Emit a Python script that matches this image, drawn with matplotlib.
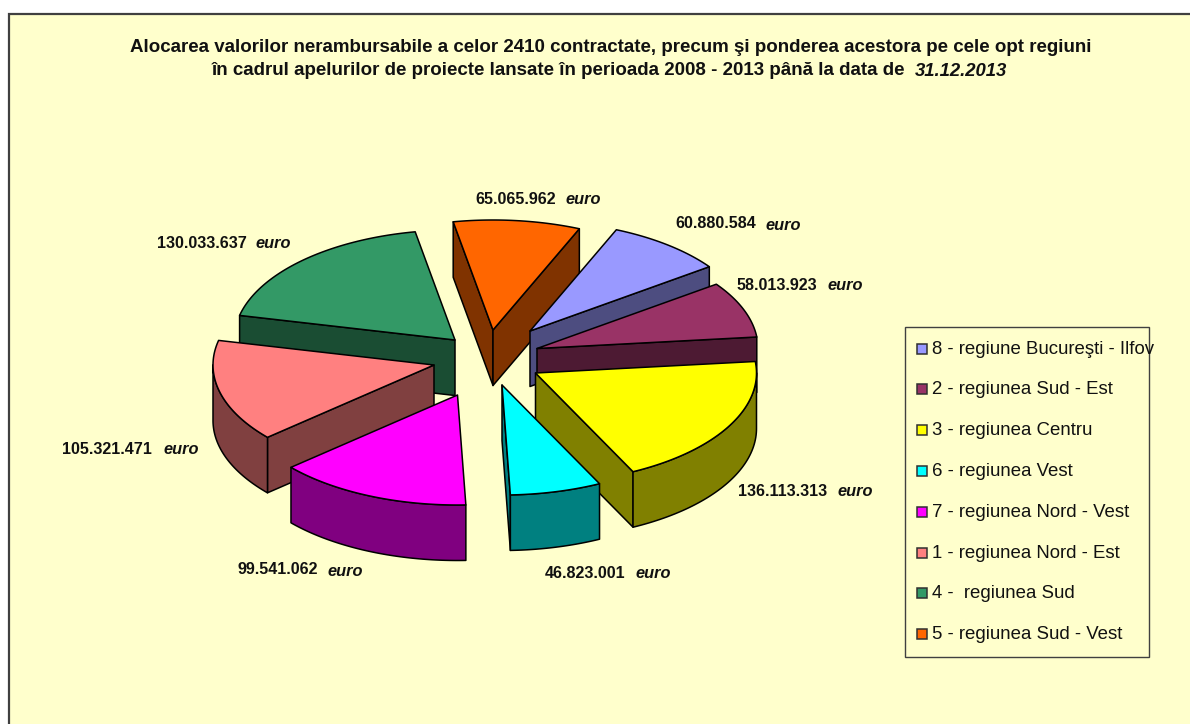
import numpy as np
import matplotlib
matplotlib.use("Agg")
import matplotlib.pyplot as plt
from matplotlib.patches import Polygon, Rectangle

regions = ["8 - regiune Bucureşti - Ilfov", "2 - regiunea Sud - Est", "3 - regiunea Centru",
           "6 - regiunea Vest", "7 - regiunea Nord - Vest", "1 - regiunea Nord - Est",
           "4 -  regiunea Sud", "5 - regiunea Sud - Vest"]
values = [60880584, 58013923, 136113313, 46823001, 99541062, 105321471, 130033637, 65065962]
top_colors = ["#9999FF", "#993366", "#FFFF00", "#00FFFF", "#FF00FF", "#FF8080", "#339966", "#FF6600"]
side_colors = ["#4D4D80", "#4D1A33", "#808000", "#008080", "#800080", "#804040", "#1A4D33", "#803300"]
label_xy = [(675, 224), (737, 285), (738, 491), (545, 573), (237, 570), (62, 449), (157, 243), (475, 199)]
euro_x = [766, 827, 838, 636, 328, 163, 256, 566]
title_1 = "Alocarea valorilor nerambursabile a celor 2410 contractate, precum şi ponderea acestora pe cele opt regiuni"
title_2 = "în cadrul apelurilor de proiecte lansate în perioada 2008 - 2013 până la data de"
title_date = "31.12.2013"

FONT = "Liberation Sans"
BG = "#FFFFCC"
CX, CY = 488, 361        # pie centre
RX, RY = 221, 110        # top ellipse radii
DEPTH = 55.5
START = 23.0             # degrees clockwise from 12 o'clock
# how far each slice is pulled out of the pie (x, y on screen)
EXPLODE = [(42, -30), (49, -12.5), (47.5, 12), (14, 24), (-30.5, 34), (-54, 4), (-33, -21), (5, -31)]

fig = plt.figure(figsize=(11.9, 7.24), dpi=100, facecolor="white")
ax = fig.add_axes([0, 0, 1, 1])
ax.set_xlim(0, 1190)
ax.set_ylim(724, 0)
ax.axis("off")

ax.add_patch(Rectangle((9, 14), 1300, 800, facecolor=BG, edgecolor="#404040", lw=1.6, zorder=0))

fractions = np.array(values, dtype=float) / sum(values)
edges = START + 360 * np.concatenate([[0], np.cumsum(fractions)])
mids = (edges[:-1] + edges[1:]) / 2

order = np.argsort(-np.cos(np.radians(mids)))
z = 2
for i in order:
    apex = np.array([CX + EXPLODE[i][0], CY + EXPLODE[i][1]])
    th = np.radians(np.linspace(edges[i], edges[i + 1], 60))
    arc = np.column_stack([apex[0] + RX * np.sin(th), apex[1] - RY * np.cos(th)])
    outline = np.vstack([apex, arc, apex])
    drop = np.array([0, DEPTH])

    # side faces which look towards the viewer (edge running leftwards on a clockwise outline)
    faces = []
    if arc[0, 0] < apex[0]:
        faces.append(np.vstack([apex, arc[0], arc[0] + drop, apex + drop]))
    if arc[-1, 0] > apex[0]:
        faces.append(np.vstack([arc[-1], apex, apex + drop, arc[-1] + drop]))
    going_left = np.diff(arc[:, 0]) < 0
    if going_left.any():
        rim = arc[:-1][going_left]
        rim = np.vstack([rim, arc[1:][going_left][-1]])
        faces.append(np.vstack([rim, (rim + drop)[::-1]]))
    for f in faces:
        ax.add_patch(Polygon(f, closed=True, facecolor=side_colors[i], edgecolor="black",
                             lw=1.1, joinstyle="round", zorder=z))
        z += 1
    ax.add_patch(Polygon(outline, closed=True, facecolor=top_colors[i], edgecolor="black",
                         lw=1.1, joinstyle="round", zorder=z))
    z += 1

tz = 100
for v, (lx, ly), ex in zip(values, label_xy, euro_x):
    s = f"{v:,}".replace(",", ".")
    ax.text(lx, ly, s, family=FONT, weight="bold", size=11.6, color="#111111", va="center", ha="left", zorder=tz)
    ax.text(ex, ly + 1, "euro", family=FONT, weight="bold", style="italic", size=11.8, color="#111111",
            va="center", ha="left", zorder=tz)

ax.text(130, 47, title_1, family=FONT, weight="bold", size=13.52, color="#111111", va="center", ha="left", zorder=tz)
ax.text(212, 70.5, title_2, family=FONT, weight="bold", size=13.52, color="#111111", va="center", ha="left", zorder=tz)
ax.text(915, 71, title_date, family=FONT, weight="bold", style="italic", size=13.37, color="#111111", va="center", ha="left", zorder=tz)

# legend
ax.add_patch(Rectangle((904.5, 327), 244.5, 329.5, facecolor=BG, edgecolor="#404040", lw=1.0, zorder=50))
for k, (name, col) in enumerate(zip(regions, top_colors)):
    yy = 348 + k * 40.8
    ax.add_patch(Rectangle((916.5, yy - 4.5), 10, 10, facecolor=col, edgecolor="#303030", lw=1.1, zorder=51))
    ax.text(932, yy + 1, name, family=FONT, size=13.4, color="#111111", va="center", ha="left", zorder=tz)

fig.savefig("out.png", dpi=100, facecolor="white")
